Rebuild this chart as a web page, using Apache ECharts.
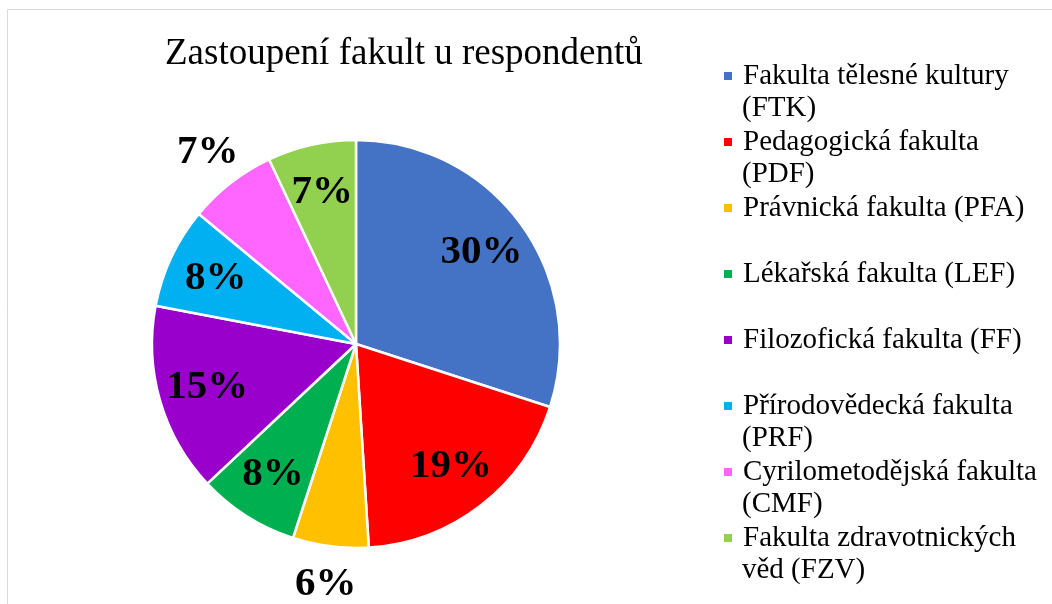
<!DOCTYPE html>
<html>
<head>
<meta charset="utf-8">
<script src="https://cdn.jsdelivr.net/npm/echarts@6/dist/echarts.min.js"></script>
<style>
  html, body { margin: 0; padding: 0; background: #fff; }
  #chart { width: 1052px; height: 604px; }
</style>
</head>
<body>
<div id="chart"></div>
<script>
// faculties, in the order the slices go clockwise from 12 o'clock
const faculties = [
    'Fakulta tělesné kultury (FTK)',
    'Pedagogická fakulta (PDF)',
    'Právnická fakulta (PFA)',
    'Lékařská fakulta (LEF)',
    'Filozofická fakulta (FF)',
    'Přírodovědecká fakulta (PRF)',
    'Cyrilometodějská fakulta (CMF)',
    'Fakulta zdravotnických věd (FZV)'
]
// legend text as it wraps in the picture: first and second line
const legendLine1 = [
    'Fakulta tělesné kultury',
    'Pedagogická fakulta',
    'Právnická fakulta (PFA)',
    'Lékařská fakulta (LEF)',
    'Filozofická fakulta (FF)',
    'Přírodovědecká fakulta',
    'Cyrilometodějská fakulta',
    'Fakulta zdravotnických'
]
const legendLine2 = ['(FTK)', '(PDF)', '', '', '', '(PRF)', '(CMF)', 'věd (FZV)']
const shares = [30, 19, 6, 8, 15, 8, 7, 7]
const colors = ['#4472C4', '#FF0000', '#FFC000', '#00B050', '#9900CC', '#00B0F0', '#FF66FF', '#92D050']
// labels that sit outside the pie
const outsideLabels = ['Právnická fakulta (PFA)', 'Cyrilometodějská fakulta (CMF)']

const serif = '"Liberation Serif", "Times New Roman", serif'
const center = [356, 344]

const labelStyle = {
    color: '#000',
    fontFamily: serif,
    fontWeight: 'bold',
    fontSize: 41
}

const legendText = {
    color: '#000',
    fontFamily: serif,
    fontSize: 29,
    lineHeight: 32,
    padding: [0, 0, 0, 5]
}

function pieData(labelFilter) {
    return faculties.map((name, i) => ({
        name: name,
        value: shares[i],
        label: { show: labelFilter ? labelFilter(name) : false }
    }))
}

function legendBlock(lines, top, icon) {
    return {
        orient: 'vertical',
        left: 722,
        top: top,
        padding: 0,
        itemWidth: 10,
        itemHeight: 10,
        itemGap: 34,
        icon: icon,
        selectedMode: false,
        data: faculties,
        formatter: (name) => lines[faculties.indexOf(name)] || '\u00a0',
        textStyle: legendText
    }
}

const chart = echarts.init(document.getElementById('chart'), null, { renderer: 'canvas' })

const option = {
    animation: false,
    color: colors,
    title: {
        text: 'Zastoupení fakult u respondentů',
        left: 160,
        top: 31,
        textStyle: {
            color: '#000',
            fontFamily: serif,
            fontWeight: 'normal',
            fontSize: 37
        }
    },
    legend: [
        legendBlock(legendLine1, 60, 'rect'),
        legendBlock(legendLine2, 92, 'none')
    ],
    graphic: [
        {
            type: 'rect',
            silent: true,
            shape: { x: 7.5, y: 9.5, width: 1100, height: 700 },
            style: { fill: 'none', stroke: '#d9d9d9', lineWidth: 1 }
        }
    ],
    series: [
        {
            name: 'slices',
            type: 'pie',
            center: center,
            radius: [0, 204],
            startAngle: 90,
            clockwise: true,
            itemStyle: { borderColor: '#fff', borderWidth: 2.5 },
            label: { show: false },
            labelLine: { show: false },
            emphasis: { disabled: true },
            data: pieData(null)
        },
        {
            // inner labels
            name: 'innerLabels',
            type: 'pie',
            silent: true,
            center: center,
            radius: [100, 204],
            startAngle: 90,
            itemStyle: { color: 'rgba(0,0,0,0)' },
            label: Object.assign({ position: 'inside', formatter: '{c}%' }, labelStyle),
            labelLine: { show: false },
            emphasis: { disabled: true },
            data: pieData((name) => outsideLabels.indexOf(name) < 0)
        },
        {
            // outer labels
            name: 'outerLabels',
            type: 'pie',
            silent: true,
            center: center,
            radius: [214, 264],
            startAngle: 90,
            itemStyle: { color: 'rgba(0,0,0,0)' },
            label: Object.assign({ position: 'inside', formatter: '{c}%' }, labelStyle),
            labelLine: { show: false },
            emphasis: { disabled: true },
            data: pieData((name) => outsideLabels.indexOf(name) >= 0)
        }
    ]
}

chart.setOption(option)

window.addEventListener('resize', () => {
    chart.resize()
})
</script>
</body>
</html>
